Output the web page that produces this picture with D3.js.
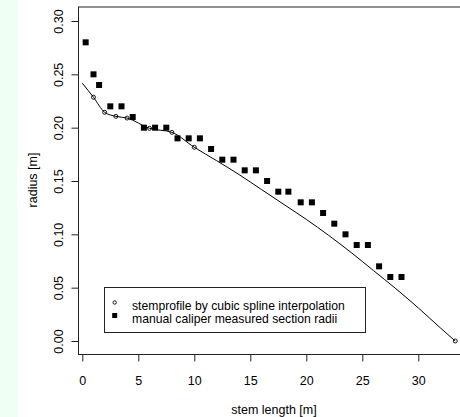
<!DOCTYPE html>
<html>
<head>
<meta charset="utf-8">
<script src="https://cdn.jsdelivr.net/npm/d3@7"></script>
<style>
  body { margin: 0; background: #ffffff; }
  svg { display: block; }
  text { font-family: "Liberation Sans", Arial, Helvetica, sans-serif; fill: #000; }
</style>
</head>
<body>
<div id="chart"></div>
<script>
// Interpolated stem profile (spline curve), stem length [m] vs radius [m]
const profileLength = [0, 1, 2, 3, 4, 6, 8, 10, 12, 14, 16, 18, 20, 22, 24, 26, 28, 30, 32, 33.3];
const profileRadius = [0.2416, 0.2285, 0.2144, 0.2106, 0.2090, 0.1994, 0.1956, 0.1816, 0.169, 0.156,
                       0.142, 0.128, 0.114, 0.099, 0.083, 0.066, 0.049, 0.031, 0.012, 0.0];

// Spline support points drawn as open circles
const knotLength = [1, 2, 3, 4, 6, 8, 10, 33.3];
const knotRadius = [0.2285, 0.2144, 0.2106, 0.2090, 0.1994, 0.1956, 0.1816, 0.0];

// Caliper-measured section radii
const caliperLength = [0.3, 1.0, 1.5, 2.5, 3.5, 4.5, 5.5, 6.5, 7.5, 8.5, 9.5, 10.5, 11.5, 12.5, 13.5,
                       14.5, 15.5, 16.5, 17.5, 18.4, 19.5, 20.5, 21.5, 22.5, 23.5, 24.5, 25.5, 26.5, 27.5, 28.5];
const caliperRadius = [0.28, 0.25, 0.24, 0.22, 0.22, 0.21, 0.20, 0.20, 0.20, 0.19, 0.19, 0.19, 0.18, 0.17, 0.17,
                       0.16, 0.16, 0.15, 0.14, 0.14, 0.13, 0.13, 0.12, 0.11, 0.10, 0.09, 0.09, 0.07, 0.06, 0.06];

const xTicks = [0, 5, 10, 15, 20, 25, 30];
const yTicks = [0, 0.05, 0.10, 0.15, 0.20, 0.25, 0.30];
const legendLabels = ["stemprofile by cubic spline interpolation", "manual caliper measured section radii"];
const xTitle = "stem length [m]";
const yTitle = "radius [m]";

const W = 460, H = 417;
const box = { left: 78.5, top: 7, right: 469.5, bottom: 354.5 };

const svg = d3.select("#chart").append("svg")
  .attr("width", W).attr("height", H);

// pale side band
svg.append("rect").attr("x", 0).attr("y", 0).attr("width", 17).attr("height", H)
  .attr("fill", "#effff4");

const x = d3.scaleLinear().domain([0, 30]).range([82.3, 418.3]);
const y = d3.scaleLinear().domain([0, 0.30]).range([341, 21]);

// plot frame
svg.append("rect")
  .attr("x", box.left).attr("y", box.top)
  .attr("width", box.right - box.left).attr("height", box.bottom - box.top)
  .attr("fill", "none").attr("stroke", "#222").attr("stroke-width", 1);

const fs = "12.5px";

// x axis
const gx = svg.append("g").attr("transform", `translate(0,${box.bottom})`)
  .call(d3.axisBottom(x).tickValues(xTicks).tickFormat(d3.format("d")).tickSize(7).tickPadding(15));
gx.select(".domain").remove();
gx.selectAll(".tick line").attr("stroke", "#222");
gx.selectAll("text").style("font-size", fs).attr("fill", "#000");

// y axis, labels rotated
const gy = svg.append("g").attr("transform", `translate(${box.left},0)`)
  .call(d3.axisLeft(y).tickValues(yTicks).tickFormat(d3.format(".2f")).tickSize(7));
gy.select(".domain").remove();
gy.selectAll(".tick line").attr("stroke", "#222");
gy.selectAll("text")
  .style("font-size", fs).attr("fill", "#000")
  .attr("x", null).attr("dy", null)
  .attr("text-anchor", "middle")
  .attr("transform", "translate(-15.5,0) rotate(-90)");

// axis titles
svg.append("text").attr("x", 274).attr("y", 414).attr("text-anchor", "middle")
  .style("font-size", fs).text(xTitle);
svg.append("text").attr("transform", "translate(37,180) rotate(-90)").attr("text-anchor", "middle")
  .style("font-size", fs).text(yTitle);

// spline curve
const profile = profileLength.map((d, i) => [d, profileRadius[i]]);
svg.append("path").datum(profile)
  .attr("fill", "none").attr("stroke", "#000").attr("stroke-width", 1)
  .attr("d", d3.line().x(d => x(d[0])).y(d => y(d[1])).curve(d3.curveMonotoneX));

// support points
svg.append("g").selectAll("circle")
  .data(knotLength.map((d, i) => [d, knotRadius[i]]))
  .join("circle")
  .attr("cx", d => x(d[0])).attr("cy", d => y(d[1])).attr("r", 2)
  .attr("fill", "none").attr("stroke", "#000").attr("stroke-width", 0.9);

// caliper measurements
const sq = 6;
svg.append("g").selectAll("rect")
  .data(caliperLength.map((d, i) => [d, caliperRadius[i]]))
  .join("rect")
  .attr("x", d => x(d[0]) - sq / 2).attr("y", d => y(d[1]) - sq / 2)
  .attr("width", sq).attr("height", sq).attr("fill", "#000");

// legend
const lg = svg.append("g");
lg.append("rect").attr("x", 104.5).attr("y", 287.5).attr("width", 261).attr("height", 45)
  .attr("fill", "#fff").attr("stroke", "#222").attr("stroke-width", 1);
lg.append("circle").attr("cx", 114.7).attr("cy", 302.5).attr("r", 1.7)
  .attr("fill", "none").attr("stroke", "#000").attr("stroke-width", 0.9);
lg.append("rect").attr("x", 112.2).attr("y", 313).attr("width", 5).attr("height", 5).attr("fill", "#000");
lg.selectAll("text.lab").data(legendLabels).join("text")
  .attr("class", "lab")
  .attr("x", 132).attr("y", (d, i) => 310 + i * 13)
  .style("font-size", "12.2px").text(d => d);
</script>
</body>
</html>
